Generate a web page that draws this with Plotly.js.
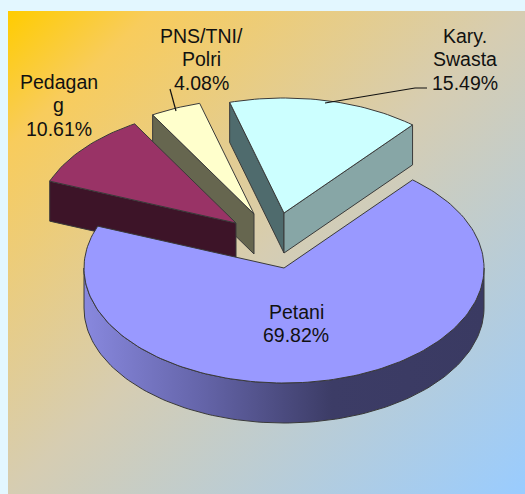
<!DOCTYPE html>
<html>
<head>
<meta charset="utf-8">
<script src="https://cdn.plot.ly/plotly-3.0.1.min.js"></script>
<style>
html,body{margin:0;padding:0;width:525px;height:494px;overflow:hidden;background:#E3F7FF}
#panel{position:absolute;left:8px;top:11px;width:517px;height:483px;
background:linear-gradient(to bottom right,#FFCC00 0%,#F8CC5C 14%,#D6CDB2 50%,#99CCFF 100%)}
#chart{position:absolute;left:0;top:0;width:525px;height:494px}
</style>
</head>
<body>
<div id="panel"></div>
<div id="chart"></div>
<script>
// Data, in the order the slices run clockwise from the start angle
const categories = ["Petani", "Pedagang", "PNS/TNI/Polri", "Kary. Swasta"];
const values = [69.82, 10.61, 4.08, 15.49];
const labelLines = [["Petani"], ["Pedagan", "g"], ["PNS/TNI/", "Polri"], ["Kary.", "Swasta"]];

// Styles
const topColors = ["#9999FF", "#993366", "#FFFFCC", "#CCFFFF"];
const startFaceColors = [null, "#3D1428", "#66664F", "#4F6B6D"];
const endFaceColors = [null, null, null, "#87A6A6"];
const rimStops = [[0, "#8888DE"], [0.29, "#6565AA"], [0.62, "#3C3C66"], [1, "#3A3A62"]];
const edgeColor = "#3a3a3a";
const textColor = "#111111";

// Layout of the 3D pie, in pixel-like axis units
const centre = {x: 284, y: 268};
const radiusX = 200, radiusY = 115, depth = 40, startAngle = 50;
const offsetX = [0, -48, -30, 0];
const offsetY = [0, -45, -54, -55];
const labelX = [296, 58.5, 201, 465];
const labelY = [312, 82, 36, 36];
const linePitch = 23.3;
const leaderX = [[170, 176], [325, 415, 427]];
const leaderY = [[89, 111], [103, 88, 88]];

const total = values.reduce((a, b) => a + b, 0);
const rad = d => d * Math.PI / 180;
function arc(cx, cy, a0, a1, dy) {
  const n = Math.max(2, Math.ceil(Math.abs(a1 - a0) / 1.5));
  const xs = [], ys = [];
  for (let i = 0; i <= n; i++) {
    const a = rad(a0 + (a1 - a0) * i / n);
    xs.push(cx + radiusX * Math.cos(a));
    ys.push(cy - radiusY * Math.sin(a) + dy);
  }
  return {xs, ys};
}
function poly(xs, ys, color, extra) {
  return Object.assign({
    type: "scatter", mode: "lines", x: xs.concat(xs[0]), y: ys.concat(ys[0]),
    fill: "toself", fillcolor: color, line: {color: edgeColor, width: 1},
    hoverinfo: "skip", showlegend: false
  }, extra || {});
}

// Slice angles from the values
const starts = [], ends = [];
let running = startAngle;
values.forEach(v => { starts.push(running); running -= v / total * 360; ends.push(running); });

const traces = [];
[3, 2, 1, 0].forEach(i => {
  const cx = centre.x + offsetX[i], cy = centre.y + offsetY[i];
  const s = starts[i], e = ends[i];
  const face = (angle, color) => {
    const px = cx + radiusX * Math.cos(rad(angle)), py = cy - radiusY * Math.sin(rad(angle));
    traces.push(poly([cx, px, px, cx], [cy, py, py + depth, cy + depth], color));
  };
  if (Math.cos(rad(s)) < 0 && startFaceColors[i]) face(s, startFaceColors[i]);
  if (Math.cos(rad(e)) > 0 && endFaceColors[i]) face(e, endFaceColors[i]);
  // outer rim: only the part of the arc on the near half of the ellipse
  const rimFrom = Math.min(s, 0), rimTo = Math.max(e, -180);
  if (rimFrom > rimTo) {
    const t = arc(cx, cy, rimFrom, rimTo, 0), b = arc(cx, cy, rimTo, rimFrom, depth);
    traces.push(poly(t.xs.concat(b.xs), t.ys.concat(b.ys), "#5555AA", {
      fillgradient: {type: "horizontal", colorscale: rimStops}
    }));
  }
  const a = arc(cx, cy, s, e, 0);
  traces.push(poly([cx].concat(a.xs), [cy].concat(a.ys), topColors[i]));
});

// Leader lines
leaderX.forEach((lx, k) => traces.push({
  type: "scatter", mode: "lines", x: lx, y: leaderY[k],
  line: {color: "#111111", width: 1.2}, hoverinfo: "skip", showlegend: false
}));

// Labels
const annotations = [];
categories.forEach((c, i) => {
  labelLines[i].concat(values[i].toFixed(2) + "%").forEach((t, k) => annotations.push({
    x: labelX[i], y: labelY[i] + k * linePitch, xref: "x", yref: "y",
    text: t, showarrow: false, xanchor: "center", yanchor: "middle",
    font: {family: "Liberation Sans, Arial, sans-serif", size: 19.5, color: textColor}
  }));
});

Plotly.newPlot("chart", traces, {
  width: 525, height: 494,
  margin: {l: 0, r: 0, t: 0, b: 0, pad: 0},
  paper_bgcolor: "rgba(0,0,0,0)", plot_bgcolor: "rgba(0,0,0,0)",
  xaxis: {range: [0, 525], visible: false, fixedrange: true},
  yaxis: {range: [494, 0], visible: false, fixedrange: true},
  showlegend: false,
  annotations: annotations
}, {displayModeBar: false});
</script>
</body>
</html>
